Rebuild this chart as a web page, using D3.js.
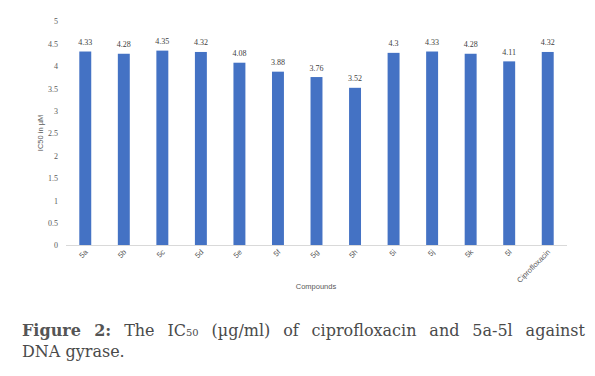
<!DOCTYPE html>
<html><head><meta charset="utf-8">
<script src="https://cdn.jsdelivr.net/npm/d3@7"></script>
<style>body{margin:0;background:#fff;} svg{display:block;}</style>
</head><body>
<svg id="c" width="595" height="376"></svg>
<script>
const categories = ["5a","5b","5c","5d","5e","5f","5g","5h","5i","5j","5k","5l","Ciprofloxacin"];
const values = [4.33,4.28,4.35,4.32,4.08,3.88,3.76,3.52,4.3,4.33,4.28,4.11,4.32];
const valueLabels = ["4.33","4.28","4.35","4.32","4.08","3.88","3.76","3.52","4.3","4.33","4.28","4.11","4.32"];
const yTicks = [0,0.5,1,1.5,2,2.5,3,3.5,4,4.5,5];
const yTitle = "IC50 in µM";
const xTitle = "Compounds";

const svg = d3.select("#c");
const x = d3.scaleBand().domain(categories).range([66,567]).paddingInner(0.69).paddingOuter(0.345);
const y = d3.scaleLinear().domain([0,5]).range([245.5,21.5]);

svg.append("g").selectAll("text").data(yTicks).join("text")
  .attr("x",58).attr("y",d=>y(d)+2.8).attr("text-anchor","end")
  .attr("font-family","Liberation Serif, serif").attr("font-size",8).attr("fill","#595959")
  .text(d=>d);

svg.append("g").selectAll("rect").data(values).join("rect")
  .attr("x",(d,i)=>x(categories[i])).attr("width",x.bandwidth())
  .attr("y",d=>y(d)).attr("height",d=>y(0)-y(d)).attr("fill","#4472C4");

svg.append("g").selectAll("text").data(values).join("text")
  .attr("x",(d,i)=>x(categories[i])+x.bandwidth()/2).attr("y",d=>y(d)-6.5)
  .attr("text-anchor","middle").attr("font-family","Liberation Serif, serif")
  .attr("font-size",8).attr("fill","#404040").text((d,i)=>valueLabels[i]);

svg.append("line").attr("x1",66).attr("x2",567).attr("y1",y(0)).attr("y2",y(0))
  .attr("stroke","#d9d9d9").attr("stroke-width",1);

svg.append("g").selectAll("text").data(categories).join("text")
  .attr("transform",d=>`translate(${x(d)+x.bandwidth()/2+3},${y(0)+7}) rotate(-45)`)
  .attr("text-anchor","end").attr("font-family","Liberation Sans, sans-serif")
  .attr("font-size",7.5).attr("fill","#595959").text(d=>d);

svg.append("text").attr("x",316).attr("y",289).attr("text-anchor","middle")
  .attr("font-family","Liberation Sans, sans-serif").attr("font-size",7.5).attr("fill","#595959").text(xTitle);
svg.append("text").attr("transform","translate(42.5,133) rotate(-90)").attr("text-anchor","middle")
  .attr("font-family","Liberation Sans, sans-serif").attr("font-size",7.5).attr("fill","#595959").text(yTitle);

// caption
function buildCap(fs){
  svg.selectAll(".cap").remove();
  const cap = svg.append("text").attr("class","cap").attr("x",22).attr("y",336)
    .attr("font-family","DejaVu Serif, serif").attr("font-size",fs).attr("fill","#4a4a4a");
  cap.append("tspan").attr("font-weight","bold").attr("fill","#555").text("Figure 2:");
  cap.append("tspan").text(" The IC");
  cap.append("tspan").attr("font-size",fs*0.62).text("50");
  cap.append("tspan").text(" (µg/ml) of ciprofloxacin and 5a-5l against");
  return cap;
}
let fs = 16, cap = buildCap(fs);
while (cap.node().getComputedTextLength() > 535 && fs > 10) { fs -= 0.5; cap = buildCap(fs); }
const natural = cap.node().getComputedTextLength();
cap.attr("word-spacing", Math.max(0,(563-natural)/9));
svg.append("text").attr("x",22).attr("y",357)
  .attr("font-family","DejaVu Serif, serif").attr("font-size",fs).attr("fill","#4a4a4a")
  .text("DNA gyrase.");
</script>
</body></html>
